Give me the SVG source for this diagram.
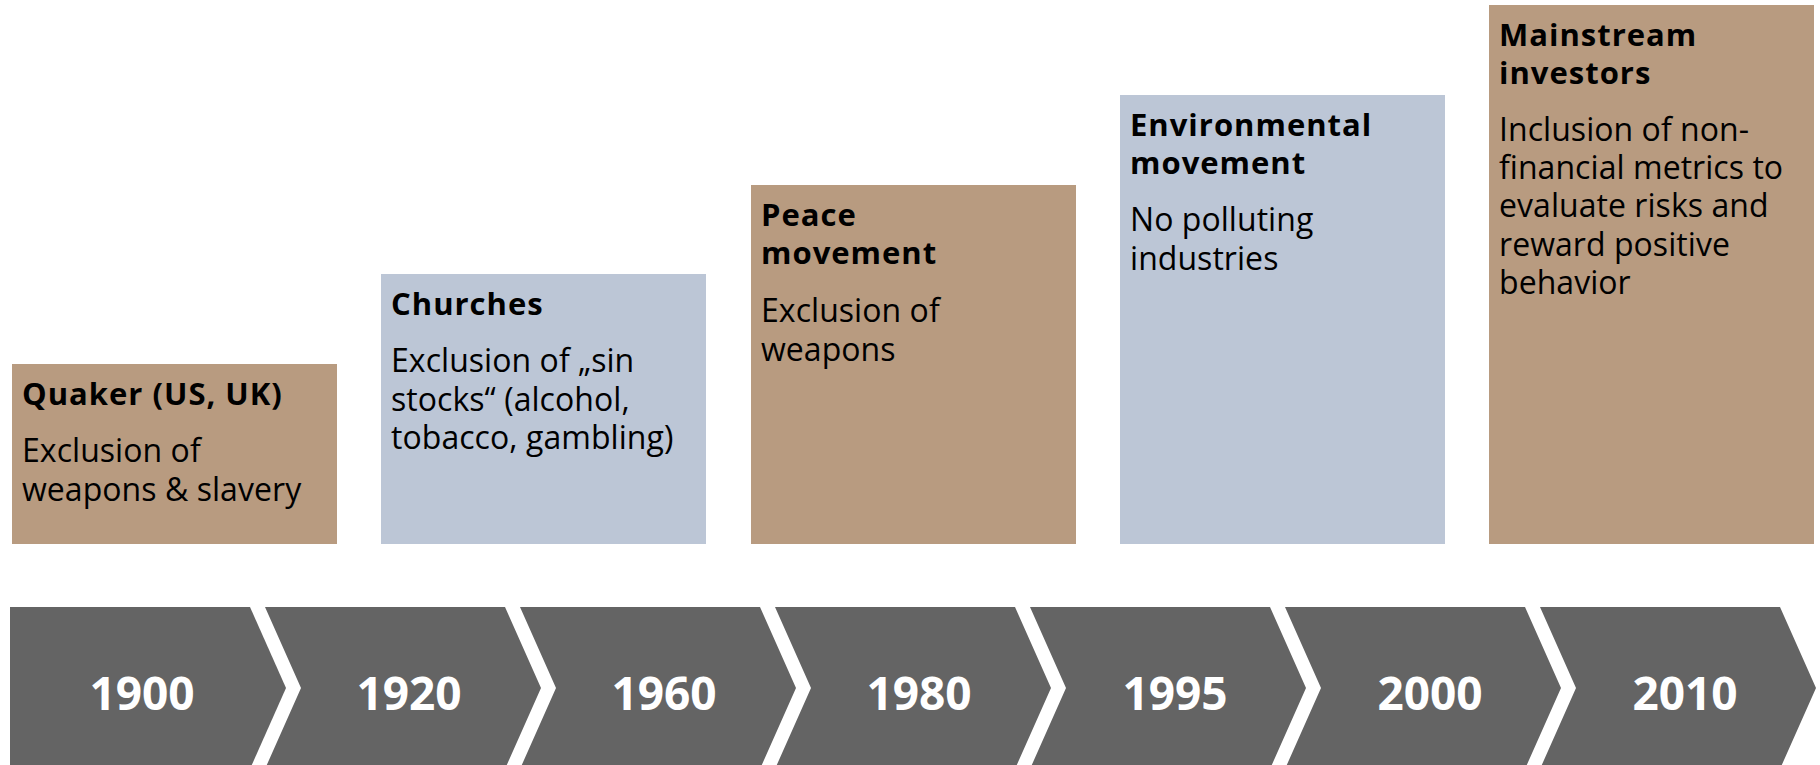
<svg xmlns="http://www.w3.org/2000/svg" width="1820" height="765" viewBox="0 0 1820 765">
  <style>
    .brown { fill: #B89B80; }
    .blue { fill: #BCC6D6; }
    .step { fill: #646464; }
    .title { font-family: "Open Sans", "Noto Sans", "Liberation Sans", sans-serif; font-weight: bold; font-size: 31px; letter-spacing: 1px; fill: #000; }
    .body { font-family: "Open Sans", "Noto Sans", "Liberation Sans", sans-serif; font-size: 32px; letter-spacing: 0.05px; fill: #000; }
    .year { font-family: "Open Sans", "Noto Sans", "Liberation Sans", sans-serif; font-weight: bold; font-size: 46px; fill: #fff; text-anchor: middle; }
  </style>
  <rect width="1820" height="765" fill="#fff"/>

  <!-- milestone boxes -->
  <g id="quaker">
    <rect class="brown" x="12" y="364" width="325" height="180"/>
    <text class="title" x="22" y="405">Quaker (US, UK)</text>
    <text class="body" x="22" y="462">Exclusion of<tspan x="22" dy="38.5">weapons &amp; slavery</tspan></text>
  </g>
  <g id="churches">
    <rect class="blue" x="381" y="274" width="325" height="270"/>
    <text class="title" x="391" y="315">Churches</text>
    <text class="body" x="391" y="372">Exclusion of „sin<tspan x="391" dy="38.5">stocks“ (alcohol,</tspan><tspan x="391" dy="38.5">tobacco, gambling)</tspan></text>
  </g>
  <g id="peace">
    <rect class="brown" x="751" y="185" width="325" height="359"/>
    <text class="title" x="761" y="226">Peace<tspan x="761" dy="37.5">movement</tspan></text>
    <text class="body" x="761" y="322">Exclusion of<tspan x="761" dy="38.5">weapons</tspan></text>
  </g>
  <g id="environmental">
    <rect class="blue" x="1120" y="95" width="325" height="449"/>
    <text class="title" x="1130" y="136">Environmental<tspan x="1130" dy="37.5">movement</tspan></text>
    <text class="body" x="1130" y="231">No polluting<tspan x="1130" dy="38.5">industries</tspan></text>
  </g>
  <g id="mainstream">
    <rect class="brown" x="1489" y="5" width="325" height="539"/>
    <text class="title" x="1499" y="46">Mainstream<tspan x="1499" dy="37.5">investors</tspan></text>
    <text class="body" x="1499" y="141">Inclusion of non-<tspan x="1499" dy="38.2">financial metrics to</tspan><tspan x="1499" dy="38.2">evaluate risks and</tspan><tspan x="1499" dy="38.2">reward positive</tspan><tspan x="1499" dy="38.2">behavior</tspan></text>
  </g>

  <!-- timeline chevrons -->
  <g id="timeline">
    <g id="y1900">
      <polygon class="step" points="10,607 250,607 286,688 250,769 10,769"/>
      <text class="year" x="142" y="710">1900</text>
    </g>
    <g id="y1920">
      <polygon class="step" points="265,607 505,607 541,688 505,769 265,769 301,688"/>
      <text class="year" x="409" y="710">1920</text>
    </g>
    <g id="y1960">
      <polygon class="step" points="520,607 760,607 796,688 760,769 520,769 556,688"/>
      <text class="year" x="664" y="710">1960</text>
    </g>
    <g id="y1980">
      <polygon class="step" points="775,607 1015,607 1051,688 1015,769 775,769 811,688"/>
      <text class="year" x="919" y="710">1980</text>
    </g>
    <g id="y1995">
      <polygon class="step" points="1030,607 1270,607 1306,688 1270,769 1030,769 1066,688"/>
      <text class="year" x="1175" y="710">1995</text>
    </g>
    <g id="y2000">
      <polygon class="step" points="1285,607 1525,607 1561,688 1525,769 1285,769 1321,688"/>
      <text class="year" x="1430" y="710">2000</text>
    </g>
    <g id="y2010">
      <polygon class="step" points="1540,607 1780,607 1816,688 1780,769 1540,769 1576,688"/>
      <text class="year" x="1685" y="710">2010</text>
    </g>
  </g>
</svg>
